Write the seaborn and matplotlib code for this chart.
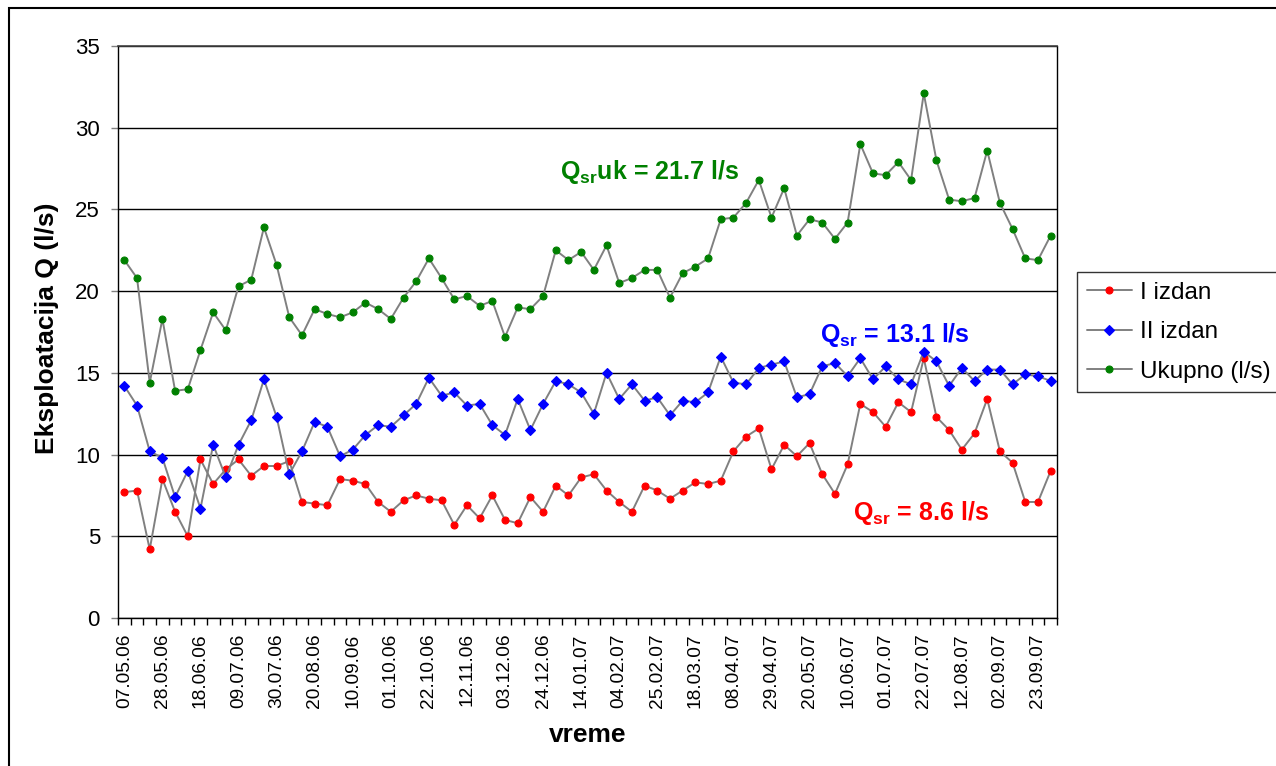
import numpy as np
import pandas as pd
import matplotlib
matplotlib.use("Agg")
import matplotlib.pyplot as plt
import seaborn as sns
from matplotlib.patches import Rectangle

# Weekly readings, first week 07.05.06; every third week is labelled
tick_labels = [
    "07.05.06", "28.05.06", "18.06.06", "09.07.06", "30.07.06", "20.08.06",
    "10.09.06", "01.10.06", "22.10.06", "12.11.06", "03.12.06", "24.12.06",
    "14.01.07", "04.02.07", "25.02.07", "18.03.07", "08.04.07", "29.04.07",
    "20.05.07", "10.06.07", "01.07.07", "22.07.07", "12.08.07", "02.09.07",
    "23.09.07",
]

izdan_1 = [
    7.7, 7.8, 4.2, 8.5, 6.5, 5.0, 9.7, 8.2, 9.1, 9.7, 8.7, 9.3, 9.3, 9.6, 7.1,
    7.0, 6.9, 8.5, 8.4, 8.2, 7.1, 6.5, 7.2, 7.5, 7.3, 7.2, 5.7, 6.9, 6.1, 7.5,
    6.0, 5.8, 7.4, 6.5, 8.1, 7.5, 8.6, 8.8, 7.8, 7.1, 6.5, 8.1, 7.8, 7.3, 7.8,
    8.3, 8.2, 8.4, 10.2, 11.1, 11.6, 9.1, 10.6, 9.9, 10.7, 8.8, 7.6, 9.4, 13.1,
    12.6, 11.7, 13.2, 12.6, 15.9, 12.3, 11.5, 10.3, 11.3, 13.4, 10.2, 9.5, 7.1,
    7.1, 9.0,
]

izdan_2 = [
    14.2, 13.0, 10.2, 9.8, 7.4, 9.0, 6.7, 10.6, 8.6, 10.6, 12.1, 14.6, 12.3,
    8.8, 10.2, 12.0, 11.7, 9.9, 10.3, 11.2, 11.8, 11.7, 12.4, 13.1, 14.7, 13.6,
    13.8, 13.0, 13.1, 11.8, 11.2, 13.4, 11.5, 13.1, 14.5, 14.3, 13.8, 12.5,
    15.0, 13.4, 14.3, 13.3, 13.5, 12.4, 13.3, 13.2, 13.8, 16.0, 14.4, 14.3,
    15.3, 15.5, 15.7, 13.5, 13.7, 15.4, 15.6, 14.8, 15.9, 14.6, 15.4, 14.6,
    14.3, 16.3, 15.7, 14.2, 15.3, 14.5, 15.2, 15.2, 14.3, 14.9, 14.8, 14.5,
]

ukupno = [
    21.9, 20.8, 14.4, 18.3, 13.9, 14.0, 16.4, 18.7, 17.6, 20.3, 20.7, 23.9,
    21.6, 18.4, 17.3, 18.9, 18.6, 18.4, 18.7, 19.3, 18.9, 18.3, 19.6, 20.6,
    22.0, 20.8, 19.5, 19.7, 19.1, 19.4, 17.2, 19.0, 18.9, 19.7, 22.5, 21.9,
    22.4, 21.3, 22.8, 20.5, 20.8, 21.3, 21.3, 19.6, 21.1, 21.5, 22.0, 24.4,
    24.5, 25.4, 26.8, 24.5, 26.3, 23.4, 24.4, 24.2, 23.2, 24.2, 29.0, 27.2,
    27.1, 27.9, 26.8, 32.1, 28.0, 25.6, 25.5, 25.7, 28.6, 25.4, 23.8, 22.0,
    21.9, 23.4,
]

series_names = ["I izdan", "II izdan", "Ukupno (l/s)"]
marker_colors = ["#FF0000", "#0000FF", "#008000"]
marker_shapes = ["o", "D", "o"]
marker_sizes = [5.0, 4.6, 5.0]

sns.set_theme(style="white")
plt.rcParams["font.family"] = ["Liberation Sans", "DejaVu Sans"]
plt.rcParams["mathtext.fontset"] = "custom"
plt.rcParams["mathtext.rm"] = "Liberation Sans"
plt.rcParams["mathtext.it"] = "Liberation Sans:italic"
plt.rcParams["mathtext.bf"] = "Liberation Sans:bold"
for key in ["text.color", "axes.labelcolor", "xtick.color", "ytick.color"]:
    plt.rcParams[key] = "black"

W, H = 1276, 766
fig = plt.figure(figsize=(W / 100, H / 100), dpi=100)
fig.patch.set_facecolor("white")
ax = fig.add_axes([118 / W, (H - 618) / H, 939 / W, 572 / H])

week = np.arange(len(ukupno))
df = pd.DataFrame({
    "week": week,
    "I izdan": izdan_1,
    "II izdan": izdan_2,
    "Ukupno (l/s)": ukupno,
})

for name, col, mk, ms in zip(series_names, marker_colors, marker_shapes, marker_sizes):
    sns.lineplot(
        data=df, x="week", y=name, ax=ax, color="#808080", linewidth=1.4,
        marker=mk, markersize=ms, markerfacecolor=col, markeredgecolor=col,
        markeredgewidth=0.8, errorbar=None, legend=False, sort=False,
    )

# Value axis
ax.set_ylim(0, 35)
ax.set_yticks(np.arange(0, 36, 5))
ax.yaxis.grid(True, color="black", linewidth=1.0)
ax.xaxis.grid(False)
ax.set_axisbelow(True)
ax.tick_params(axis="y", which="major", direction="out", length=5, width=1,
               color="#808080", labelcolor="black", labelsize=16, pad=8,
               left=True)

# Category axis: one slot per week, label every third week
ax.set_xlim(-0.5, len(ukupno) - 0.5)
ax.set_xticks(week[::3][:len(tick_labels)])
ax.set_xticklabels(tick_labels, rotation=90, fontsize=13.8)
ax.set_xticks(np.arange(-0.5, len(ukupno), 1), minor=True)
ax.tick_params(axis="x", which="major", length=0, pad=11, bottom=True,
               labelcolor="black")
ax.tick_params(axis="x", which="minor", direction="out", length=5, width=1,
               color="black", bottom=True)

ax.set_xlabel("")
ax.set_ylabel("")
for side in ["left", "bottom", "right"]:
    ax.spines[side].set_visible(True)
    ax.spines[side].set_color("black")
    ax.spines[side].set_linewidth(1.0)
ax.spines["top"].set_visible(True)
ax.spines["top"].set_color("#404040")
ax.spines["top"].set_linewidth(1.2)

# Average values
ax.text(34.3, 27.3, r"Q$_\mathbf{sr}$uk = 21.7 l/s", color="#008000",
        fontsize=18, fontweight="bold", ha="left", va="center")
ax.text(54.8, 17.3, r"Q$_\mathbf{sr}$ = 13.1 l/s", color="#0000FF",
        fontsize=18, fontweight="bold", ha="left", va="center")
ax.text(57.4, 6.4, r"Q$_\mathbf{sr}$ = 8.6 l/s", color="#FF0000",
        fontsize=18, fontweight="bold", ha="left", va="center")

# Axis titles
fig.text(47 / W, 1 - 328 / H, "Eksploatacija Q (l/s)", rotation=90,
         fontsize=19, fontweight="bold", color="black",
         ha="center", va="center")
fig.text(588 / W, 1 - 735 / H, "vreme", fontsize=19, fontweight="bold",
         color="black", ha="center", va="center")

# Legend
leg = ax.legend(
    ax.lines[:3], series_names, loc="upper left",
    bbox_to_anchor=(1077 / W, 1 - 272 / H), bbox_transform=fig.transFigure,
    borderaxespad=0, fontsize=17.5, frameon=True, fancybox=False,
    edgecolor="black", handlelength=1.85, handletextpad=0.35,
    borderpad=0.4, labelspacing=0.72,
)
leg.get_frame().set_linewidth(1.0)
for t in leg.get_texts():
    t.set_color("black")

# Chart area frame
fig.patches.append(Rectangle((8.5 / W, -0.05), 1.1, 1.05 - 8.5 / H,
                             transform=fig.transFigure, fill=False,
                             edgecolor="black", linewidth=1.5))

fig.savefig("out.png", dpi=100, facecolor="white")
